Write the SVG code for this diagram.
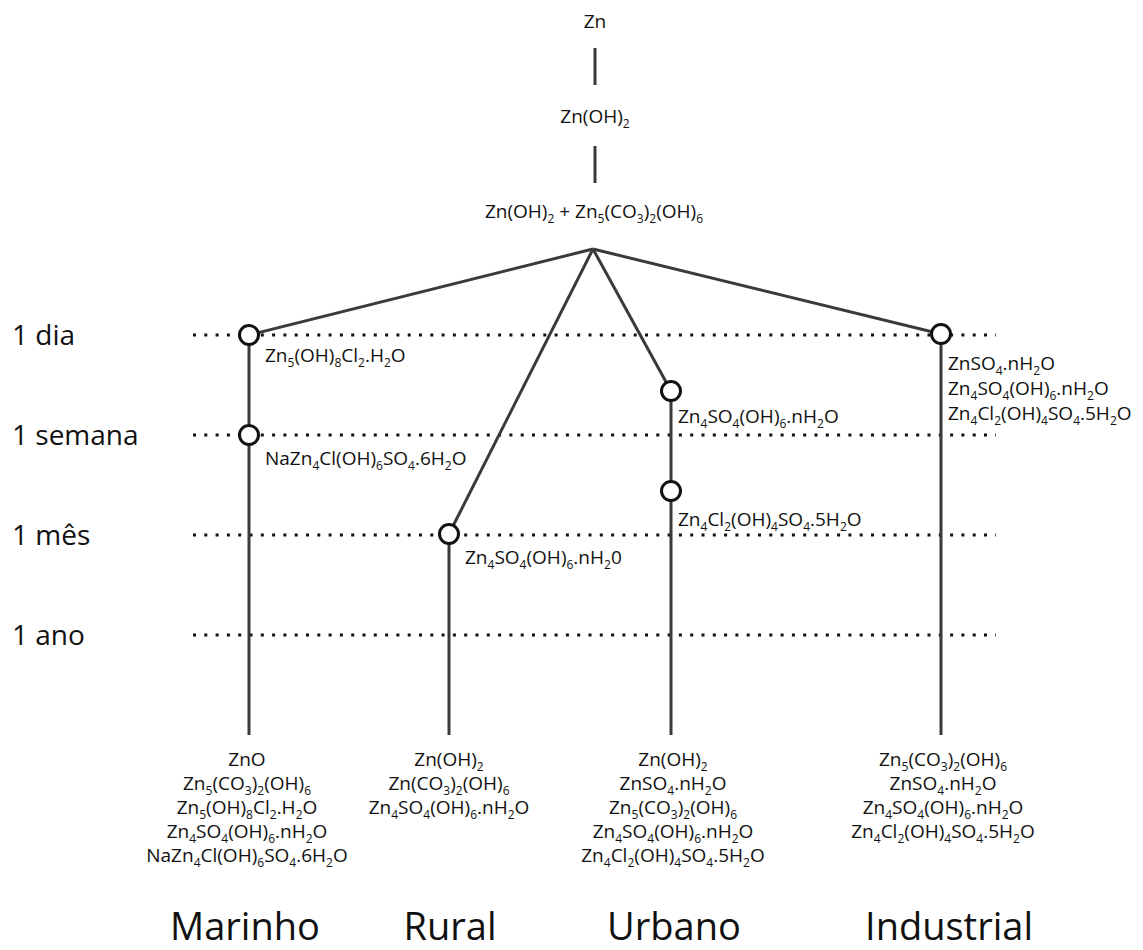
<svg xmlns="http://www.w3.org/2000/svg" width="1143" height="950" viewBox="0 0 1143 950">
<style>
.t{font-family:"Open Sans","Noto Sans",sans-serif;font-size:19px;fill:#111}
.s{font-size:12px;baseline-shift:-5px}
.m{text-anchor:middle}
.row{font-family:"Open Sans","Noto Sans",sans-serif;font-size:28px;fill:#111}
.col{font-family:"Open Sans","Noto Sans",sans-serif;font-size:38px;fill:#111;text-anchor:middle}
.ln{stroke:#3b393a;stroke-width:3;fill:none}
.dot{stroke:#111;stroke-width:3;stroke-dasharray:3 8.3;fill:none}
.c{fill:#fff;stroke:#111;stroke-width:3}
</style>
<rect width="1143" height="950" fill="#fff"/>
<g id="timeline">
<line class="dot" x1="193" y1="335" x2="996" y2="335"/>
<line class="dot" x1="193" y1="435" x2="996" y2="435"/>
<line class="dot" x1="193" y1="535" x2="996" y2="535"/>
<line class="dot" x1="193" y1="635" x2="996" y2="635"/>
</g>
<g id="row-labels">
<text class="row" x="12" y="345">1 dia</text>
<text class="row" x="12" y="445">1 semana</text>
<text class="row" x="12" y="545">1 mês</text>
<text class="row" x="12" y="645">1 ano</text>
</g>
<g id="connectors">
<line class="ln" x1="595" y1="48" x2="595" y2="85"/>
<line class="ln" x1="595" y1="146" x2="595" y2="183"/>
<line class="ln" x1="593" y1="249" x2="249" y2="335"/>
<line class="ln" x1="593" y1="249" x2="449" y2="534"/>
<line class="ln" x1="593" y1="249" x2="671" y2="391"/>
<line class="ln" x1="593" y1="249" x2="941" y2="334"/>
<line class="ln" x1="249" y1="335" x2="249" y2="735"/>
<line class="ln" x1="449" y1="534" x2="449" y2="735"/>
<line class="ln" x1="671" y1="391" x2="671" y2="735"/>
<line class="ln" x1="941" y1="334" x2="941" y2="735"/>
</g>
<g id="n-zn"><text class="t m" x="595" y="28">Zn</text></g>
<g id="n-znoh2"><text class="t m" x="595" y="123">Zn(OH)<tspan class="s">2</tspan></text></g>
<g id="n-mix"><text class="t m" x="594" y="218">Zn(OH)<tspan class="s">2</tspan> + Zn<tspan class="s">5</tspan>(CO<tspan class="s">3</tspan>)<tspan class="s">2</tspan>(OH)<tspan class="s">6</tspan></text></g>
<g id="n-mar-dia">
<circle class="c" cx="249" cy="335" r="9.5"/>
<text class="t" x="265" y="362">Zn<tspan class="s">5</tspan>(OH)<tspan class="s">8</tspan>Cl<tspan class="s">2</tspan>.H<tspan class="s">2</tspan>O</text>
</g>
<g id="n-mar-semana">
<circle class="c" cx="249" cy="435" r="9.5"/>
<text class="t" x="265" y="465">NaZn<tspan class="s">4</tspan>Cl(OH)<tspan class="s">6</tspan>SO<tspan class="s">4</tspan>.6H<tspan class="s">2</tspan>O</text>
</g>
<g id="n-rur-mes">
<circle class="c" cx="449" cy="534" r="9.5"/>
<text class="t" x="465" y="564">Zn<tspan class="s">4</tspan>SO<tspan class="s">4</tspan>(OH)<tspan class="s">6</tspan>.nH<tspan class="s">2</tspan>0</text>
</g>
<g id="n-urb-1">
<circle class="c" cx="671" cy="391" r="9.5"/>
<text class="t" x="678" y="423">Zn<tspan class="s">4</tspan>SO<tspan class="s">4</tspan>(OH)<tspan class="s">6</tspan>.nH<tspan class="s">2</tspan>O</text>
</g>
<g id="n-urb-2">
<circle class="c" cx="671" cy="491" r="9.5"/>
<text class="t" x="678" y="526">Zn<tspan class="s">4</tspan>Cl<tspan class="s">2</tspan>(OH)<tspan class="s">4</tspan>SO<tspan class="s">4</tspan>.5H<tspan class="s">2</tspan>O</text>
</g>
<g id="n-ind-dia">
<circle class="c" cx="941" cy="334" r="9.5"/>
<text class="t" x="948" y="370">ZnSO<tspan class="s">4</tspan>.nH<tspan class="s">2</tspan>O</text>
<text class="t" x="948" y="395">Zn<tspan class="s">4</tspan>SO<tspan class="s">4</tspan>(OH)<tspan class="s">6</tspan>.nH<tspan class="s">2</tspan>O</text>
<text class="t" x="948" y="420">Zn<tspan class="s">4</tspan>Cl<tspan class="s">2</tspan>(OH)<tspan class="s">4</tspan>SO<tspan class="s">4</tspan>.5H<tspan class="s">2</tspan>O</text>
</g>
<g id="end-marinho">
<text class="t m" x="247" y="766">ZnO</text>
<text class="t m" x="247" y="790">Zn<tspan class="s">5</tspan>(CO<tspan class="s">3</tspan>)<tspan class="s">2</tspan>(OH)<tspan class="s">6</tspan></text>
<text class="t m" x="247" y="814">Zn<tspan class="s">5</tspan>(OH)<tspan class="s">8</tspan>Cl<tspan class="s">2</tspan>.H<tspan class="s">2</tspan>O</text>
<text class="t m" x="247" y="838">Zn<tspan class="s">4</tspan>SO<tspan class="s">4</tspan>(OH)<tspan class="s">6</tspan>.nH<tspan class="s">2</tspan>O</text>
<text class="t m" x="247" y="862">NaZn<tspan class="s">4</tspan>Cl(OH)<tspan class="s">6</tspan>SO<tspan class="s">4</tspan>.6H<tspan class="s">2</tspan>O</text>
</g>
<g id="end-rural">
<text class="t m" x="449" y="766">Zn(OH)<tspan class="s">2</tspan></text>
<text class="t m" x="449" y="790">Zn(CO<tspan class="s">3</tspan>)<tspan class="s">2</tspan>(OH)<tspan class="s">6</tspan></text>
<text class="t m" x="449" y="814">Zn<tspan class="s">4</tspan>SO<tspan class="s">4</tspan>(OH)<tspan class="s">6</tspan>.nH<tspan class="s">2</tspan>O</text>
</g>
<g id="end-urbano">
<text class="t m" x="673" y="766">Zn(OH)<tspan class="s">2</tspan></text>
<text class="t m" x="673" y="790">ZnSO<tspan class="s">4</tspan>.nH<tspan class="s">2</tspan>O</text>
<text class="t m" x="673" y="814">Zn<tspan class="s">5</tspan>(CO<tspan class="s">3</tspan>)<tspan class="s">2</tspan>(OH)<tspan class="s">6</tspan></text>
<text class="t m" x="673" y="838">Zn<tspan class="s">4</tspan>SO<tspan class="s">4</tspan>(OH)<tspan class="s">6</tspan>.nH<tspan class="s">2</tspan>O</text>
<text class="t m" x="673" y="862">Zn<tspan class="s">4</tspan>Cl<tspan class="s">2</tspan>(OH)<tspan class="s">4</tspan>SO<tspan class="s">4</tspan>.5H<tspan class="s">2</tspan>O</text>
</g>
<g id="end-industrial">
<text class="t m" x="943" y="766">Zn<tspan class="s">5</tspan>(CO<tspan class="s">3</tspan>)<tspan class="s">2</tspan>(OH)<tspan class="s">6</tspan></text>
<text class="t m" x="943" y="790">ZnSO<tspan class="s">4</tspan>.nH<tspan class="s">2</tspan>O</text>
<text class="t m" x="943" y="814">Zn<tspan class="s">4</tspan>SO<tspan class="s">4</tspan>(OH)<tspan class="s">6</tspan>.nH<tspan class="s">2</tspan>O</text>
<text class="t m" x="943" y="838">Zn<tspan class="s">4</tspan>Cl<tspan class="s">2</tspan>(OH)<tspan class="s">4</tspan>SO<tspan class="s">4</tspan>.5H<tspan class="s">2</tspan>O</text>
</g>
<g id="col-labels">
<text class="col" x="245" y="940">Marinho</text>
<text class="col" x="450" y="940">Rural</text>
<text class="col" x="674" y="940">Urbano</text>
<text class="col" x="949" y="940">Industrial</text>
</g>
</svg>
